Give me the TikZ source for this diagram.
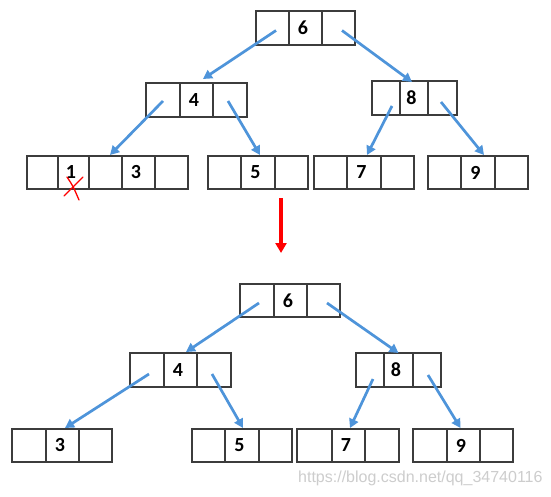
\documentclass[tikz,border=0pt]{standalone}
\usepackage{fontspec}
\setmainfont{Carlito}
\newfontfamily\wmfont{Liberation Sans}
\usetikzlibrary{arrows.meta,calc}
\definecolor{edgeblue}{RGB}{78,148,218}
\definecolor{cellline}{RGB}{60,60,60}
\definecolor{wmgray}{RGB}{205,205,205}
\tikzset{
  cell/.style={draw=cellline, line width=1.1pt, anchor=north west, inner sep=0pt, outer sep=0pt,
    font=\fontsize{20}{20}\selectfont\bfseries},
  link/.style={draw=edgeblue, line width=2.7pt, -{Triangle[length=9pt,width=9.5pt]}},
  redlink/.style={draw=red, line width=3.2pt, -{Triangle[length=10pt,width=11pt]}},
}
\newcommand\bcell[6]{\node[cell, minimum width=#4pt, minimum height=#5pt] (#1) at (#2,#3) {\makebox[0pt]{\hspace*{-5pt}\raisebox{-1.5pt}{#6}}};}
\begin{document}
\begin{tikzpicture}[x=1pt,y=-1pt]
\useasboundingbox[fill=white] (0,0) rectangle (551,497);
% ---- top tree ----
\bcell{ra}{256}{11}{33}{34}{}
\bcell{rb}{289}{11}{33}{34}{6}
\bcell{rc}{322}{11}{33}{34}{}
\bcell{fa}{146}{83}{34}{34}{}
\bcell{fb}{180}{83}{33}{34}{4}
\bcell{fc}{213}{83}{34}{34}{}
\bcell{ea}{372}{81}{28}{34}{}
\bcell{eb}{400}{81}{28}{34}{8}
\bcell{ec}{428}{81}{29}{34}{}
\bcell{oa}{27}{156}{31}{33}{}
\bcell{ob}{58}{156}{31}{33}{1}
\bcell{oc}{89}{156}{33}{33}{}
\bcell{od}{122}{156}{33}{33}{3}
\bcell{oe}{155}{156}{33}{33}{}
\bcell{va}{208}{156}{33}{33}{}
\bcell{vb}{241}{156}{34}{33}{5}
\bcell{vc}{275}{156}{33}{33}{}
\bcell{sa}{314}{156}{33}{33}{}
\bcell{sb}{347}{156}{34}{33}{7}
\bcell{sc}{381}{156}{33}{33}{}
\bcell{na}{428}{156}{33}{33}{}
\bcell{nb}{461}{156}{34}{33}{9}
\bcell{nc}{495}{156}{33}{33}{}
\draw[link] ($(ra.center)+(3.5,2.5)$) -- ($(fb.north)+(6.5,-4)$);
\draw[link] ($(rc.center)+(3.5,2.5)$) -- ($(eb.north)+(-2,1)$);
\draw[link] ($(fa.center)+(0,1)$) -- ($(oc.north)+(4.5,-1)$);
\draw[link] ($(fc.center)+(-2,1)$) -- ($(vb.north)+(2,-1)$);
\draw[link] ($(ea.center)+(6,8)$) -- ($(sb.north)+(3,-1)$);
\draw[link] ($(ec.center)+(-1.5,4)$) -- ($(nb.north)+(6,-1)$);
% red cross
\draw[red, line width=1.3pt, line cap=round] (64,196) .. controls (72,188) .. (83,177);
\draw[red, line width=1.3pt, line cap=round] (67,177) .. controls (73,186) .. (79,200);
% transition arrow
\coordinate (tstart) at (281,198);
\coordinate (tend) at (281,253);
\draw[redlink] (tstart) -- (tend);
% ---- bottom tree ----
\bcell{Ra}{240}{284}{34}{33}{}
\bcell{Rb}{274}{284}{33}{33}{6}
\bcell{Rc}{307}{284}{33}{33}{}
\bcell{Fa}{130}{353}{34}{34}{}
\bcell{Fb}{164}{353}{33}{34}{4}
\bcell{Fc}{197}{353}{34}{34}{}
\bcell{Ea}{356}{353}{28}{34}{}
\bcell{Eb}{384}{353}{29}{34}{8}
\bcell{Ec}{413}{353}{28}{34}{}
\bcell{Ta}{12}{429}{34}{33}{}
\bcell{Tb}{46}{429}{33}{33}{3}
\bcell{Tc}{79}{429}{33}{33}{}
\bcell{Va}{192}{429}{33}{33}{}
\bcell{Vb}{225}{429}{34}{33}{5}
\bcell{Vc}{259}{429}{33}{33}{}
\bcell{Sa}{297}{429}{35}{33}{}
\bcell{Sb}{332}{429}{33}{33}{7}
\bcell{Sc}{365}{429}{34}{33}{}
\bcell{Na}{413}{429}{34}{33}{}
\bcell{Nb}{447}{429}{33}{33}{9}
\bcell{Nc}{480}{429}{33}{33}{}
\draw[link] ($(Ra.center)+(2,2.5)$) -- ($(Fb.north)+(5.5,-1)$);
\draw[link] ($(Rc.center)+(3.5,2.5)$) -- ($(Eb.north)+(0,0)$);
\draw[link] ($(Fa.center)+(2,4)$) -- ($(Tb.north)+(2.5,-1)$);
\draw[link] ($(Fc.center)+(-2,4)$) -- ($(Vb.north)+(1,-1)$);
\draw[link] ($(Ea.center)+(3,9)$) -- ($(Sb.north)+(1.5,-1)$);
\draw[link] ($(Ec.center)+(1,5)$) -- ($(Nb.north)+(-3,-1)$);
% watermark
\node[anchor=west, inner sep=0pt, text=wmgray, font=\wmfont\fontsize{16}{16}\selectfont] (wm) at (298,478) {https://blog.csdn.net/qq\_34740116};
\end{tikzpicture}
\end{document}
